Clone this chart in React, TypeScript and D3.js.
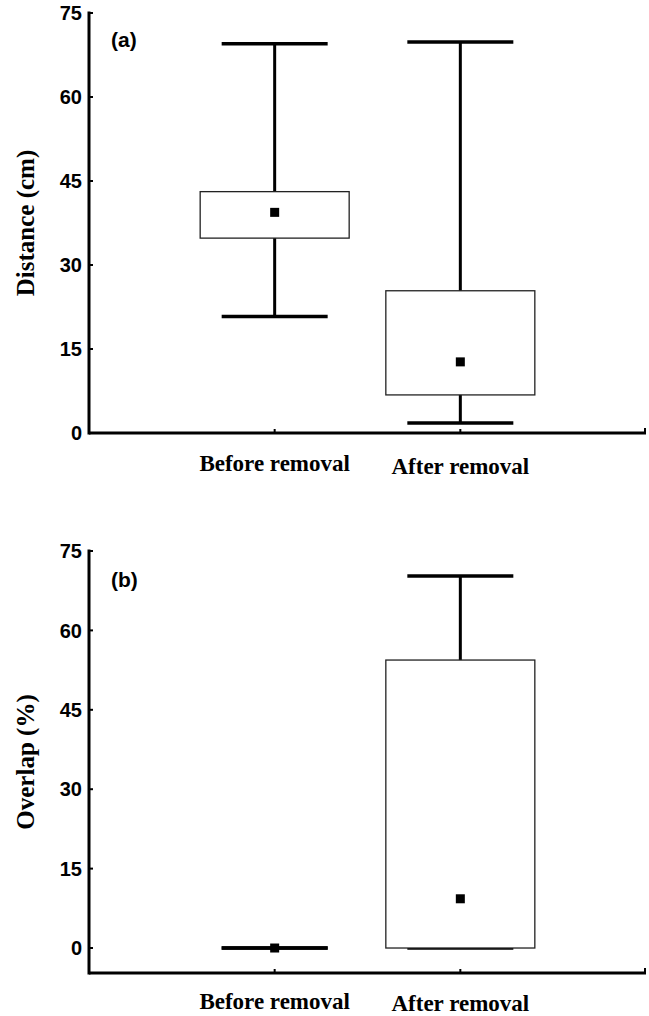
import React from "react";
import * as d3 from "d3";

const categories = ["Before removal", "After removal"];
const yTicks = [0, 15, 30, 45, 60, 75];

// Panel (a): Distance (cm)
const distLow = [20.8, 1.8];
const distQ1 = [34.8, 6.8];
const distMean = [39.4, 12.7];
const distQ3 = [43.1, 25.4];
const distHigh = [69.5, 69.8];

// Panel (b): Overlap (%)
const overLow = [0, 0];
const overQ1 = [0, 0];
const overMean = [0, 9.3];
const overQ3 = [0, 54.4];
const overHigh = [0, 70.3];

const W = 649;
const H = 1016;
const X0 = 89;
const X1 = 646;

const sans = "'Liberation Sans', Arial, sans-serif";
const serif = "'Liberation Serif', 'Times New Roman', serif";

type PanelProps = {
  label: string;
  labelDy: number;
  title: string;
  yTop: number;
  yBottom: number;
  domainMin: number;
  low: number[];
  q1: number[];
  mean: number[];
  q3: number[];
  high: number[];
  catBaseline: number[];
};

function Panel(p: PanelProps) {
  const x = d3.scalePoint<string>().domain(categories).range([X0, X1]).padding(1);
  const y = d3.scaleLinear().domain([p.domainMin, 75]).range([p.yBottom, p.yTop]);
  const boxW = 149;
  const capW = 106;
  const mk = 9;
  const midY = (p.yTop + p.yBottom) / 2;
  return (
    <g>
      {/* axes */}
      <line x1={X0} x2={X0} y1={p.yTop - 1.5} y2={p.yBottom + 1.5} stroke="#000" strokeWidth={3} />
      <line x1={X0} x2={X1} y1={p.yBottom} y2={p.yBottom} stroke="#000" strokeWidth={3} />
      {yTicks.map((t) => (
        <g key={t}>
          <line x1={X0} x2={X0 + 4} y1={y(t)} y2={y(t)} stroke="#000" strokeWidth={2} />
          <text x={82} y={y(t)} dy="0.36em" textAnchor="end" fontFamily={sans} fontWeight="bold" fontSize={20}>
            {t}
          </text>
        </g>
      ))}
      {categories.map((c) => (
        <line key={c} x1={x(c)!} x2={x(c)!} y1={p.yBottom} y2={p.yBottom - 4} stroke="#000" strokeWidth={2} />
      ))}
      <line x1={X1 - 1} x2={X1 - 1} y1={p.yBottom} y2={p.yBottom - 5} stroke="#000" strokeWidth={2} />
      {/* boxes */}
      {categories.map((c, i) => {
        const cx = x(c)!;
        return (
          <g key={c}>
            <line x1={cx} x2={cx} y1={y(p.low[i])} y2={y(p.high[i])} stroke="#000" strokeWidth={3} />
            <line x1={cx - capW / 2} x2={cx + capW / 2} y1={y(p.high[i])} y2={y(p.high[i])} stroke="#000" strokeWidth={3.5} />
            <line x1={cx - capW / 2} x2={cx + capW / 2} y1={y(p.low[i])} y2={y(p.low[i])} stroke="#000" strokeWidth={3.5} />
            <rect
              x={cx - boxW / 2}
              y={y(p.q3[i])}
              width={boxW}
              height={Math.max(0, y(p.q1[i]) - y(p.q3[i]))}
              fill={p.q3[i] > p.q1[i] ? "#fff" : "none"}
              stroke="#222"
              strokeWidth={1.3}
            />
            <rect x={cx - mk / 2} y={y(p.mean[i]) - mk / 2} width={mk} height={mk} fill="#000" />
          </g>
        );
      })}
      {/* labels */}
      <text x={111} y={p.yTop + p.labelDy} fontFamily={sans} fontWeight="bold" fontSize={21}>
        {p.label}
      </text>
      <text
        transform={`translate(34,${midY}) rotate(-90)`}
        textAnchor="middle"
        fontFamily={serif}
        fontWeight="bold"
        fontSize={25}
      >
        {p.title}
      </text>
      {categories.map((c, i) => (
        <text key={c} x={x(c)!} y={p.catBaseline[i]} textAnchor="middle" fontFamily={serif} fontWeight="bold" fontSize={23}>
          {c}
        </text>
      ))}
    </g>
  );
}

export default function App() {
  return (
    <svg width={W} height={H} style={{ position: "absolute", left: 0, top: 0, background: "#fff" }}>
      <rect width={W} height={H} fill="#fff" />
      <Panel
        label="(a)"
        labelDy={34}
        title="Distance (cm)"
        yTop={13}
        yBottom={433}
        domainMin={0}
        low={distLow}
        q1={distQ1}
        mean={distMean}
        q3={distQ3}
        high={distHigh}
        catBaseline={[471, 474]}
      />
      <Panel
        label="(b)"
        labelDy={36}
        title="Overlap (%)"
        yTop={551}
        yBottom={973}
        domainMin={-4.72}
        low={overLow}
        q1={overQ1}
        mean={overMean}
        q3={overQ3}
        high={overHigh}
        catBaseline={[1009, 1011]}
      />
    </svg>
  );
}
